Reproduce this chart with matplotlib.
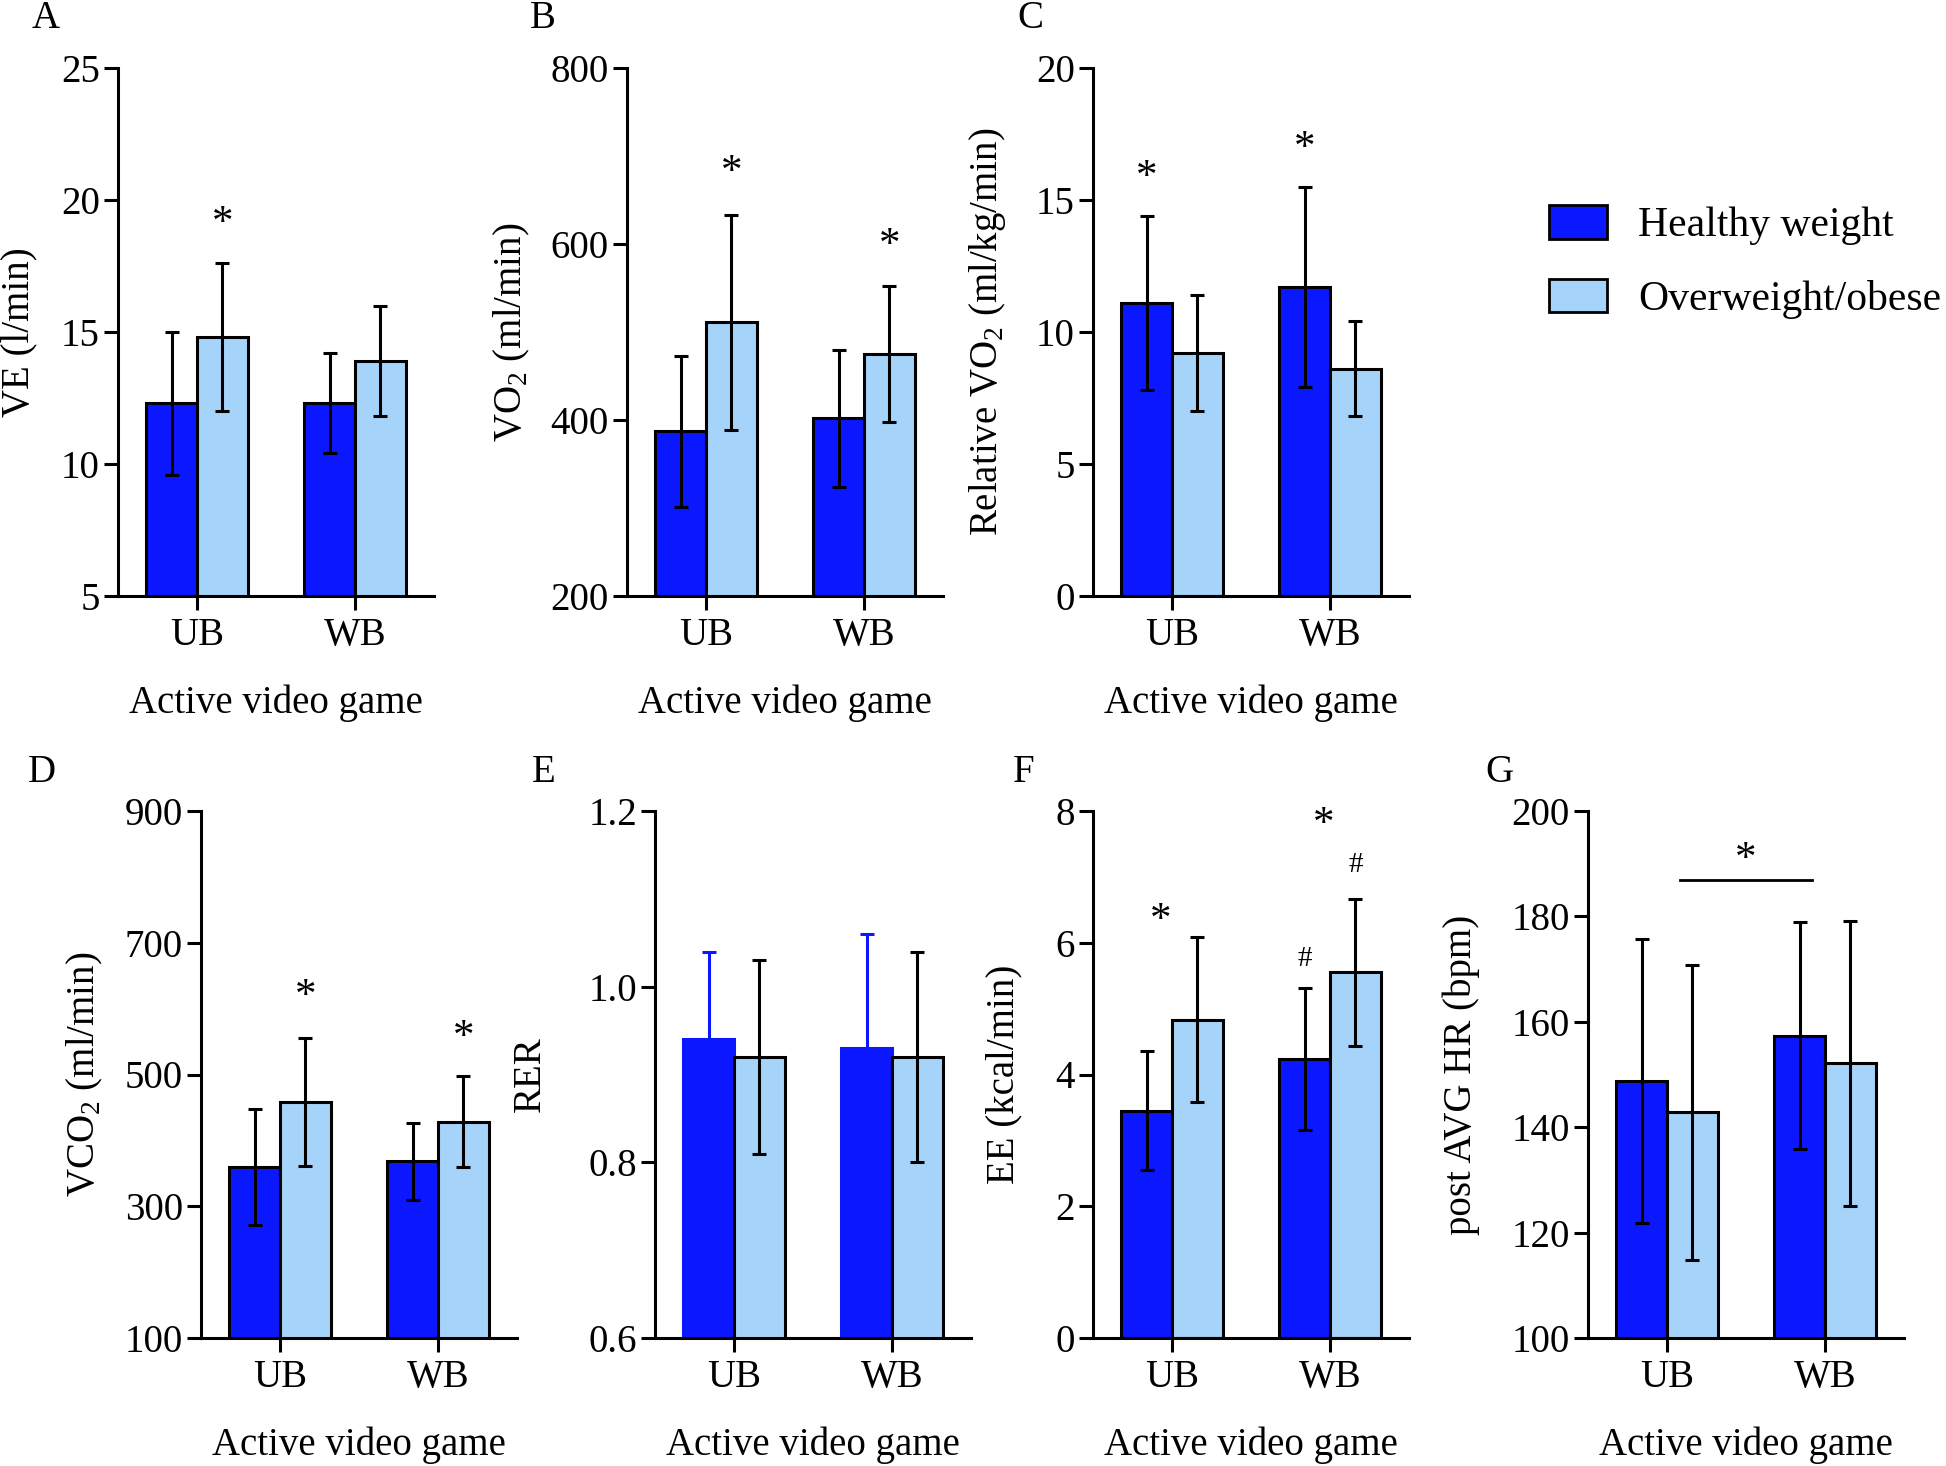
import matplotlib
matplotlib.use("Agg")
import matplotlib.pyplot as plt
from matplotlib.patches import Patch
import numpy as np

plt.rcParams['font.family'] = 'Liberation Serif'
plt.rcParams['mathtext.fontset'] = 'custom'
plt.rcParams['mathtext.rm'] = 'Liberation Serif'

groups = ["UB", "WB"]
series = ["Healthy weight", "Overweight/obese"]

# A - VE
ve_hw = [12.3, 12.3]
ve_hw_sd = [2.7, 1.9]
ve_ow = [14.8, 13.9]
ve_ow_sd = [2.8, 2.1]
# B - VO2
vo2_hw = [387, 402]
vo2_hw_sd = [86, 78]
vo2_ow = [511, 475]
vo2_ow_sd = [122, 77]
# C - relative VO2
rel_hw = [11.1, 11.7]
rel_hw_sd = [3.3, 3.8]
rel_ow = [9.2, 8.6]
rel_ow_sd = [2.2, 1.8]
# D - VCO2
vco2_hw = [360, 368]
vco2_hw_sd = [88, 59]
vco2_ow = [458, 428]
vco2_ow_sd = [97, 69]
# E - RER
rer_hw = [0.94, 0.93]
rer_hw_sd = [0.10, 0.13]
rer_ow = [0.92, 0.92]
rer_ow_sd = [0.11, 0.12]
# F - EE
ee_hw = [3.45, 4.23]
ee_hw_sd = [0.9, 1.08]
ee_ow = [4.83, 5.55]
ee_ow_sd = [1.25, 1.12]
# G - HR
hr_hw = [148.8, 157.4]
hr_hw_sd = [27, 21.5]
hr_ow = [142.8, 152.1]
hr_ow_sd = [28, 27]

# significance marks: (panel, x, y, symbol)
marks = [
    ("A", 0.16, 19.45, "*"),
    ("B", 0.16, 691, "*"), ("B", 1.16, 609, "*"),
    ("C", -0.16, 16.2, "*"), ("C", 0.84, 17.3, "*"),
    ("D", 0.16, 632, "*"), ("D", 1.16, 570, "*"),
    ("F", -0.07, 6.47, "*"), ("F", 0.96, 7.93, "*"),
    ("F", 0.84, 5.79, "#"), ("F", 1.16, 7.22, "#"),
    ("G", 0.5, 192.4, "*"),
]

c_hw = "#0B17FF"
c_ow = "#A6D3FA"
w = 0.32
fs = 28

fig = plt.figure(figsize=(19.46, 14.66), dpi=100)

W, H = 1946, 1466
panels = {
    "A": dict(left=118, row=0, data=(ve_hw, ve_hw_sd, ve_ow, ve_ow_sd), ylim=(5, 25), step=5,
              label="VE (l/min)", lx=-0.254, fmt="%d"),
    "B": dict(left=627, row=0, data=(vo2_hw, vo2_hw_sd, vo2_ow, vo2_ow_sd), ylim=(200, 800), step=200,
              label=r"VO$_\mathrm{2}$ (ml/min)", lx=-0.30, fmt="%d"),
    "C": dict(left=1093, row=0, data=(rel_hw, rel_hw_sd, rel_ow, rel_ow_sd), ylim=(0, 20), step=5,
              label=r"Relative VO$_\mathrm{2}$ (ml/kg/min)", lx=-0.27, fmt="%d"),
    "D": dict(left=201, row=1, data=(vco2_hw, vco2_hw_sd, vco2_ow, vco2_ow_sd), ylim=(100, 900), step=200,
              label=r"VCO$_\mathrm{2}$ (ml/min)", lx=-0.305, fmt="%d"),
    "E": dict(left=655, row=1, data=(rer_hw, rer_hw_sd, rer_ow, rer_ow_sd), ylim=(0.6, 1.2), step=0.2,
              label="RER", lx=-0.335, fmt="%.1f"),
    "F": dict(left=1093, row=1, data=(ee_hw, ee_hw_sd, ee_ow, ee_ow_sd), ylim=(0, 8), step=2,
              label="EE (kcal/min)", lx=-0.222, fmt="%d"),
    "G": dict(left=1588, row=1, data=(hr_hw, hr_hw_sd, hr_ow, hr_ow_sd), ylim=(100, 200), step=20,
              label="post AVG HR (bpm)", lx=-0.343, fmt="%d"),
}
rows = [(68, 596), (811, 1338)]
letter_y = [19, 772]

x = np.arange(len(groups))
axes = {}
for name, p in panels.items():
    top, bot = rows[p["row"]]
    ax = fig.add_axes([p["left"] / W, 1 - bot / H, 316 / W, (bot - top) / H])
    axes[name] = ax
    hw, hw_sd, ow, ow_sd = p["data"]
    # panel E: healthy bars drawn without black outline, blue error bars
    edge = c_hw if name == "E" else "black"
    ax.bar(x - w / 2, hw, w, color=c_hw, edgecolor=edge, linewidth=2.2, zorder=2)
    ax.errorbar(x - w / 2, hw, yerr=hw_sd, fmt="none", ecolor=edge, elinewidth=2.2,
                capsize=5, capthick=2.2, zorder=3)
    ax.bar(x + w / 2, ow, w, color=c_ow, edgecolor="black", linewidth=2.2, zorder=2)
    ax.errorbar(x + w / 2, ow, yerr=ow_sd, fmt="none", ecolor="black", elinewidth=2.2,
                capsize=5, capthick=2.2, zorder=3)

    ax.set_xlim(-0.5, 1.5)
    ax.set_ylim(*p["ylim"])
    ax.set_yticks(np.arange(p["ylim"][0], p["ylim"][1] + p["step"] / 2, p["step"]))
    ax.yaxis.set_major_formatter(matplotlib.ticker.FormatStrFormatter(p["fmt"]))
    ax.set_xticks(x)
    ax.set_xticklabels(groups)
    for s in ["top", "right"]:
        ax.spines[s].set_visible(False)
    for s in ["left", "bottom"]:
        ax.spines[s].set_linewidth(2.2)
    ax.tick_params(axis="both", length=10, width=2.2, labelsize=fs)
    ax.tick_params(axis="x", pad=5)
    ax.tick_params(axis="y", pad=3)
    ax.set_ylabel(p["label"], fontsize=fs)
    ax.yaxis.set_label_coords(p["lx"], 0.5)
    ax.set_xlabel("Active video game", fontsize=fs)
    ax.xaxis.set_label_coords(0.5, -0.168)

    lx = {"A": 32, "B": 530, "C": 1017, "D": 28, "E": 532, "F": 1013, "G": 1485}[name]
    fig.text(lx / W, 1 - letter_y[p["row"]] / H, name, fontsize=fs, ha="left", va="center")

for name, mx, my, sym in marks:
    if sym == "*":
        axes[name].annotate(sym, (mx, my), xytext=(0, -14), textcoords="offset points",
                            ha="center", va="baseline", fontsize=31)
    else:
        axes[name].annotate(sym, (mx, my), xytext=(0, -7), textcoords="offset points",
                            ha="center", va="baseline", fontsize=21)

axes["G"].plot([0.08, 0.92], [187, 187], color="black", linewidth=2)

handles = [Patch(facecolor=c_hw, edgecolor="black", linewidth=2),
           Patch(facecolor=c_ow, edgecolor="black", linewidth=2)]
fig.legend(handles, series, loc="upper left", bbox_to_anchor=(1549 / W, 1 - 205 / H),
           frameon=False, fontsize=30, borderpad=0, borderaxespad=0,
           handlelength=1.39, handleheight=0.86, handletextpad=0.74, labelspacing=0.8)

fig.savefig("out.png", dpi=100)
